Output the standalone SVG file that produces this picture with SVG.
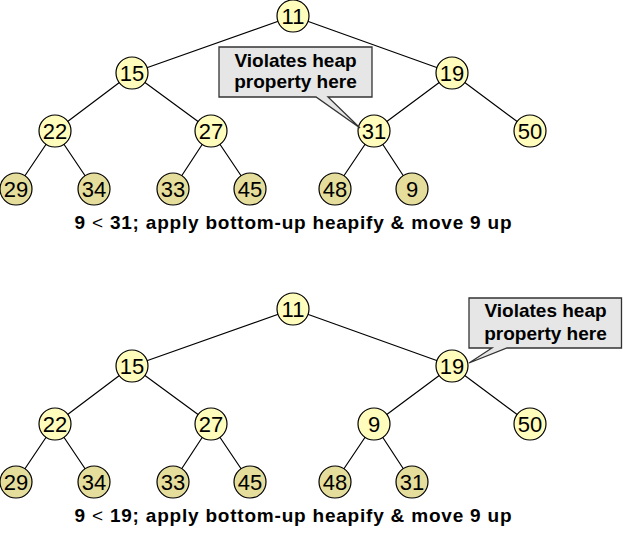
<svg xmlns="http://www.w3.org/2000/svg" width="623" height="539" viewBox="0 0 623 539">
<style>
.e{stroke:#000;stroke-width:1.2;fill:none}
.n circle{stroke:#000;stroke-width:1.2}
.in circle{fill:#fffcbc}
.lf circle{fill:#e4dd9c}
.n text{font-family:"Liberation Sans",Arial,sans-serif;font-size:22px;text-anchor:middle;fill:#000}
.co path{fill:#e6e6e6;stroke:#333;stroke-width:1.3}
.co text{font-family:"Liberation Sans",Arial,sans-serif;font-size:19px;font-weight:bold;text-anchor:middle;fill:#000}
.cap{font-family:"Liberation Sans",Arial,sans-serif;font-size:19px;font-weight:bold;text-anchor:middle;fill:#000}
</style>
<rect width="623" height="539" fill="#fff"/>
<g id="connectors">
<path class="e" d="M293,16 L132,73 M293,16 L452,73 M132,73 L55,131 M132,73 L211,131 M452,73 L374,131 M452,73 L530,131 M55,131 L16,189 M55,131 L94,189 M211,131 L173,189 M211,131 L250,189 M374,131 L335,189 M374,131 L412,189"/>
<path class="e" d="M293,309 L132,366 M293,309 L452,366 M132,366 L55,424 M132,366 L211,424 M452,366 L374,424 M452,366 L530,424 M55,424 L16,482 M55,424 L94,482 M211,424 L173,482 M211,424 L250,482 M374,424 L335,482 M374,424 L412,482"/>
</g>
<g id="t1-11" class="n in"><circle cx="293" cy="16" r="16"/><text x="293" y="24">11</text></g>
<g id="t1-15" class="n in"><circle cx="132" cy="73" r="16"/><text x="132" y="81">15</text></g>
<g id="t1-19" class="n in"><circle cx="452" cy="73" r="16"/><text x="452" y="81">19</text></g>
<g id="t1-22" class="n in"><circle cx="55" cy="131" r="16"/><text x="55" y="139">22</text></g>
<g id="t1-27" class="n in"><circle cx="211" cy="131" r="16"/><text x="211" y="139">27</text></g>
<g id="t1-31" class="n in"><circle cx="374" cy="131" r="16"/><text x="374" y="139">31</text></g>
<g id="t1-50" class="n in"><circle cx="530" cy="131" r="16"/><text x="530" y="139">50</text></g>
<g id="t1-29" class="n lf"><circle cx="16" cy="189" r="16"/><text x="16" y="197">29</text></g>
<g id="t1-34" class="n lf"><circle cx="94" cy="189" r="16"/><text x="94" y="197">34</text></g>
<g id="t1-33" class="n lf"><circle cx="173" cy="189" r="16"/><text x="173" y="197">33</text></g>
<g id="t1-45" class="n lf"><circle cx="250" cy="189" r="16"/><text x="250" y="197">45</text></g>
<g id="t1-48" class="n lf"><circle cx="335" cy="189" r="16"/><text x="335" y="197">48</text></g>
<g id="t1-9" class="n lf"><circle cx="412" cy="189" r="16"/><text x="412" y="197">9</text></g>
<g id="t1-callout" class="co"><path d="M219,47 H372 V97 H328 L360,128 L316,97 H219 Z"/><text x="295.5" y="67">Violates heap</text><text x="295.5" y="88">property here</text></g>
<text class="cap" x="293" y="229" textLength="437" lengthAdjust="spacing">9 <tspan font-weight="normal">&lt;</tspan> 31; apply bottom-up heapify &amp; move 9 up</text>
<g id="t2-11" class="n in"><circle cx="293" cy="309" r="16"/><text x="293" y="317">11</text></g>
<g id="t2-15" class="n in"><circle cx="132" cy="366" r="16"/><text x="132" y="374">15</text></g>
<g id="t2-19" class="n in"><circle cx="452" cy="366" r="16"/><text x="452" y="374">19</text></g>
<g id="t2-22" class="n in"><circle cx="55" cy="424" r="16"/><text x="55" y="432">22</text></g>
<g id="t2-27" class="n in"><circle cx="211" cy="424" r="16"/><text x="211" y="432">27</text></g>
<g id="t2-9" class="n in"><circle cx="374" cy="424" r="16"/><text x="374" y="432">9</text></g>
<g id="t2-50" class="n in"><circle cx="530" cy="424" r="16"/><text x="530" y="432">50</text></g>
<g id="t2-29" class="n lf"><circle cx="16" cy="482" r="16"/><text x="16" y="490">29</text></g>
<g id="t2-34" class="n lf"><circle cx="94" cy="482" r="16"/><text x="94" y="490">34</text></g>
<g id="t2-33" class="n lf"><circle cx="173" cy="482" r="16"/><text x="173" y="490">33</text></g>
<g id="t2-45" class="n lf"><circle cx="250" cy="482" r="16"/><text x="250" y="490">45</text></g>
<g id="t2-48" class="n lf"><circle cx="335" cy="482" r="16"/><text x="335" y="490">48</text></g>
<g id="t2-31" class="n lf"><circle cx="412" cy="482" r="16"/><text x="412" y="490">31</text></g>
<g id="t2-callout" class="co"><path d="M469,298 H621.5 V348 H507 L469,363 L492,348 H469 Z"/><text x="545.5" y="317">Violates heap</text><text x="545.5" y="340">property here</text></g>
<text class="cap" x="293" y="522" textLength="437" lengthAdjust="spacing">9 <tspan font-weight="normal">&lt;</tspan> 19; apply bottom-up heapify &amp; move 9 up</text>
</svg>
